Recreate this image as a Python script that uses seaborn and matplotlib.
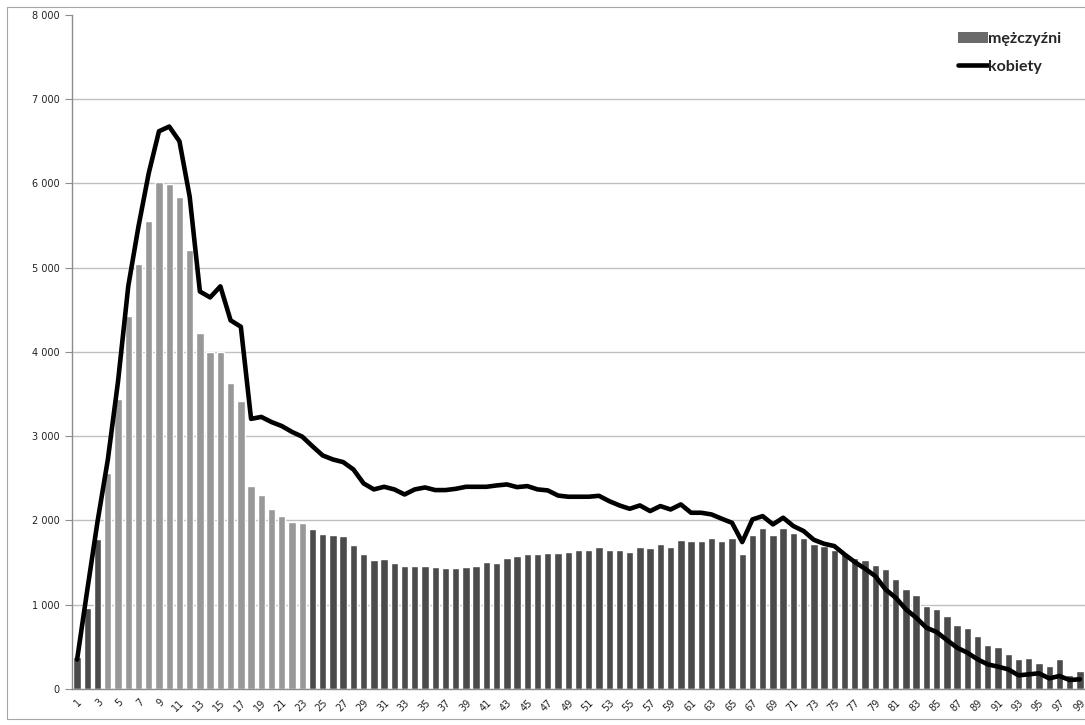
import numpy as np
import pandas as pd
import matplotlib
matplotlib.use("Agg")
import matplotlib.pyplot as plt
import seaborn as sns
from matplotlib.patches import Patch
from matplotlib.lines import Line2D

# ---- data ----
ages = list(range(1, 100))
men = [375, 965, 1782, 2565, 3435, 4420, 5045, 5547, 6016, 5997,
       5838, 5209, 4223, 3998, 3998, 3632, 3416, 2403, 2299, 2140,
       2051, 1980, 1971, 1900, 1834, 1822, 1810, 1704, 1597, 1526,
       1538, 1490, 1455, 1455, 1455, 1443, 1431, 1431, 1443, 1455,
       1502, 1490, 1549, 1573, 1597, 1597, 1609, 1609, 1621, 1644,
       1644, 1680, 1644, 1644, 1621, 1680, 1668, 1715, 1680, 1763,
       1751, 1751, 1787, 1751, 1787, 1597, 1822, 1905, 1822, 1905,
       1846, 1787, 1715, 1696, 1648, 1617, 1549, 1526, 1466, 1419,
       1300, 1182, 1111, 980, 945, 862, 755, 719, 625, 518,
       494, 411, 352, 364, 304, 269, 352, 162, 209]
women = [350, 1180, 1990, 2720, 3650, 4780, 5490, 6120, 6617, 6673,
         6499, 5842, 4716, 4646, 4777, 4374, 4298, 3205, 3228, 3167,
         3120, 3050, 2994, 2880, 2771, 2723, 2692, 2605, 2439, 2368,
         2399, 2368, 2308, 2368, 2391, 2360, 2360, 2375, 2399, 2399,
         2399, 2415, 2427, 2395, 2407, 2368, 2356, 2295, 2281, 2281,
         2281, 2292, 2229, 2178, 2138, 2178, 2111, 2170, 2130, 2190,
         2091, 2091, 2071, 2020, 1972, 1743, 2012, 2051, 1953, 2032,
         1933, 1874, 1770, 1723, 1696, 1597, 1506, 1427, 1340, 1182,
         1083, 945, 846, 727, 676, 581, 490, 431, 352, 292,
         265, 233, 162, 174, 186, 126, 154, 107, 115]
light_ages = list(range(4, 24))   # ages drawn in light gray
y_ticks = [0, 1000, 2000, 3000, 4000, 5000, 6000, 7000, 8000]
x_tick_labels = [str(a) for a in ages if a % 2 == 1]
label_men = "mężczyźni"
label_women = "kobiety"

LIGHT = "#989898"
DARK = "#4b4b4b"

sns.set_style("white")
plt.rcParams['font.family'] = ['DejaVu Sans']

W, H = 1085, 725
fig = plt.figure(figsize=(W / 100, H / 100), dpi=100)
ax = fig.add_axes([72 / W, (H - 689) / H, (W - 72) / W, (689 - 14.7) / H])

df = pd.DataFrame({"age": [str(a) for a in ages], "men": men})
palette = {str(a): (LIGHT if a in light_ages else DARK) for a in ages}
sns.barplot(data=df, x="age", y="men", hue="age", palette=palette,
            legend=False, width=0.72, saturation=1, ax=ax, zorder=2)

sns.lineplot(x=np.arange(len(ages)), y=women, color="black", linewidth=3.3,
             ax=ax, zorder=3)

ax.set_xlim(-0.5, 98.22)
ax.set_ylim(0, 8000)
ax.set_yticks(y_ticks)
ax.set_yticklabels([f"{v:,}".replace(",", " ") for v in y_ticks],
                   fontsize=7, color="#222222")
ax.yaxis.grid(True, color="#bfbfbf", linewidth=1.0, zorder=0)
ax.get_ygridlines()[-1].set_visible(False)
ax.set_axisbelow(True)

odd_pos = [i for i, a in enumerate(ages) if a % 2 == 1]
ax.set_xticks(odd_pos)
ax.set_xticklabels(x_tick_labels, rotation=45, ha="right", va="top",
                   rotation_mode="anchor", fontsize=7, color="#222222")
ax.set_xticks(np.arange(len(ages) + 1) - 0.5, minor=True)
ax.tick_params(axis="x", which="major", length=0, pad=6)
ax.tick_params(axis="x", which="minor", length=4, color="#8c8c8c", width=0.8, direction="out")
ax.tick_params(axis="y", which="major", length=5, color="#8c8c8c", width=0.8,
               direction="out", left=True, pad=4)
ax.set_xlabel("")
ax.set_ylabel("")

for s in ["top", "right"]:
    ax.spines[s].set_visible(False)
for s in ["left", "bottom"]:
    ax.spines[s].set_visible(True)
    ax.spines[s].set_color("#8c8c8c")
    ax.spines[s].set_linewidth(1.0)

# outer chart border (chart cropped on the right)
fig.add_artist(Line2D([7 / W, 7 / W], [1 - 7 / H, 1 - 719 / H], color="#a6a6a6", lw=0.8))
fig.add_artist(Line2D([7 / W, 1], [1 - 7 / H, 1 - 7 / H], color="#a6a6a6", lw=0.8))
fig.add_artist(Line2D([7 / W, 1], [1 - 719 / H, 1 - 719 / H], color="#a6a6a6", lw=0.8))

handles = [Patch(facecolor="#6a6a6a", edgecolor="none"),
           Line2D([0], [0], color="black", lw=3.3)]
fig.legend(handles, [label_men, label_women], loc="upper left",
           bbox_to_anchor=(958 / W, 1 - 32 / H), frameon=False,
           prop={"family": "Lato", "weight": "bold", "size": 11.5},
           handlelength=1.85, handleheight=0.7, handletextpad=0.05,
           labelspacing=0.85, borderpad=0, borderaxespad=0)

fig.savefig("out.png", dpi=100)
